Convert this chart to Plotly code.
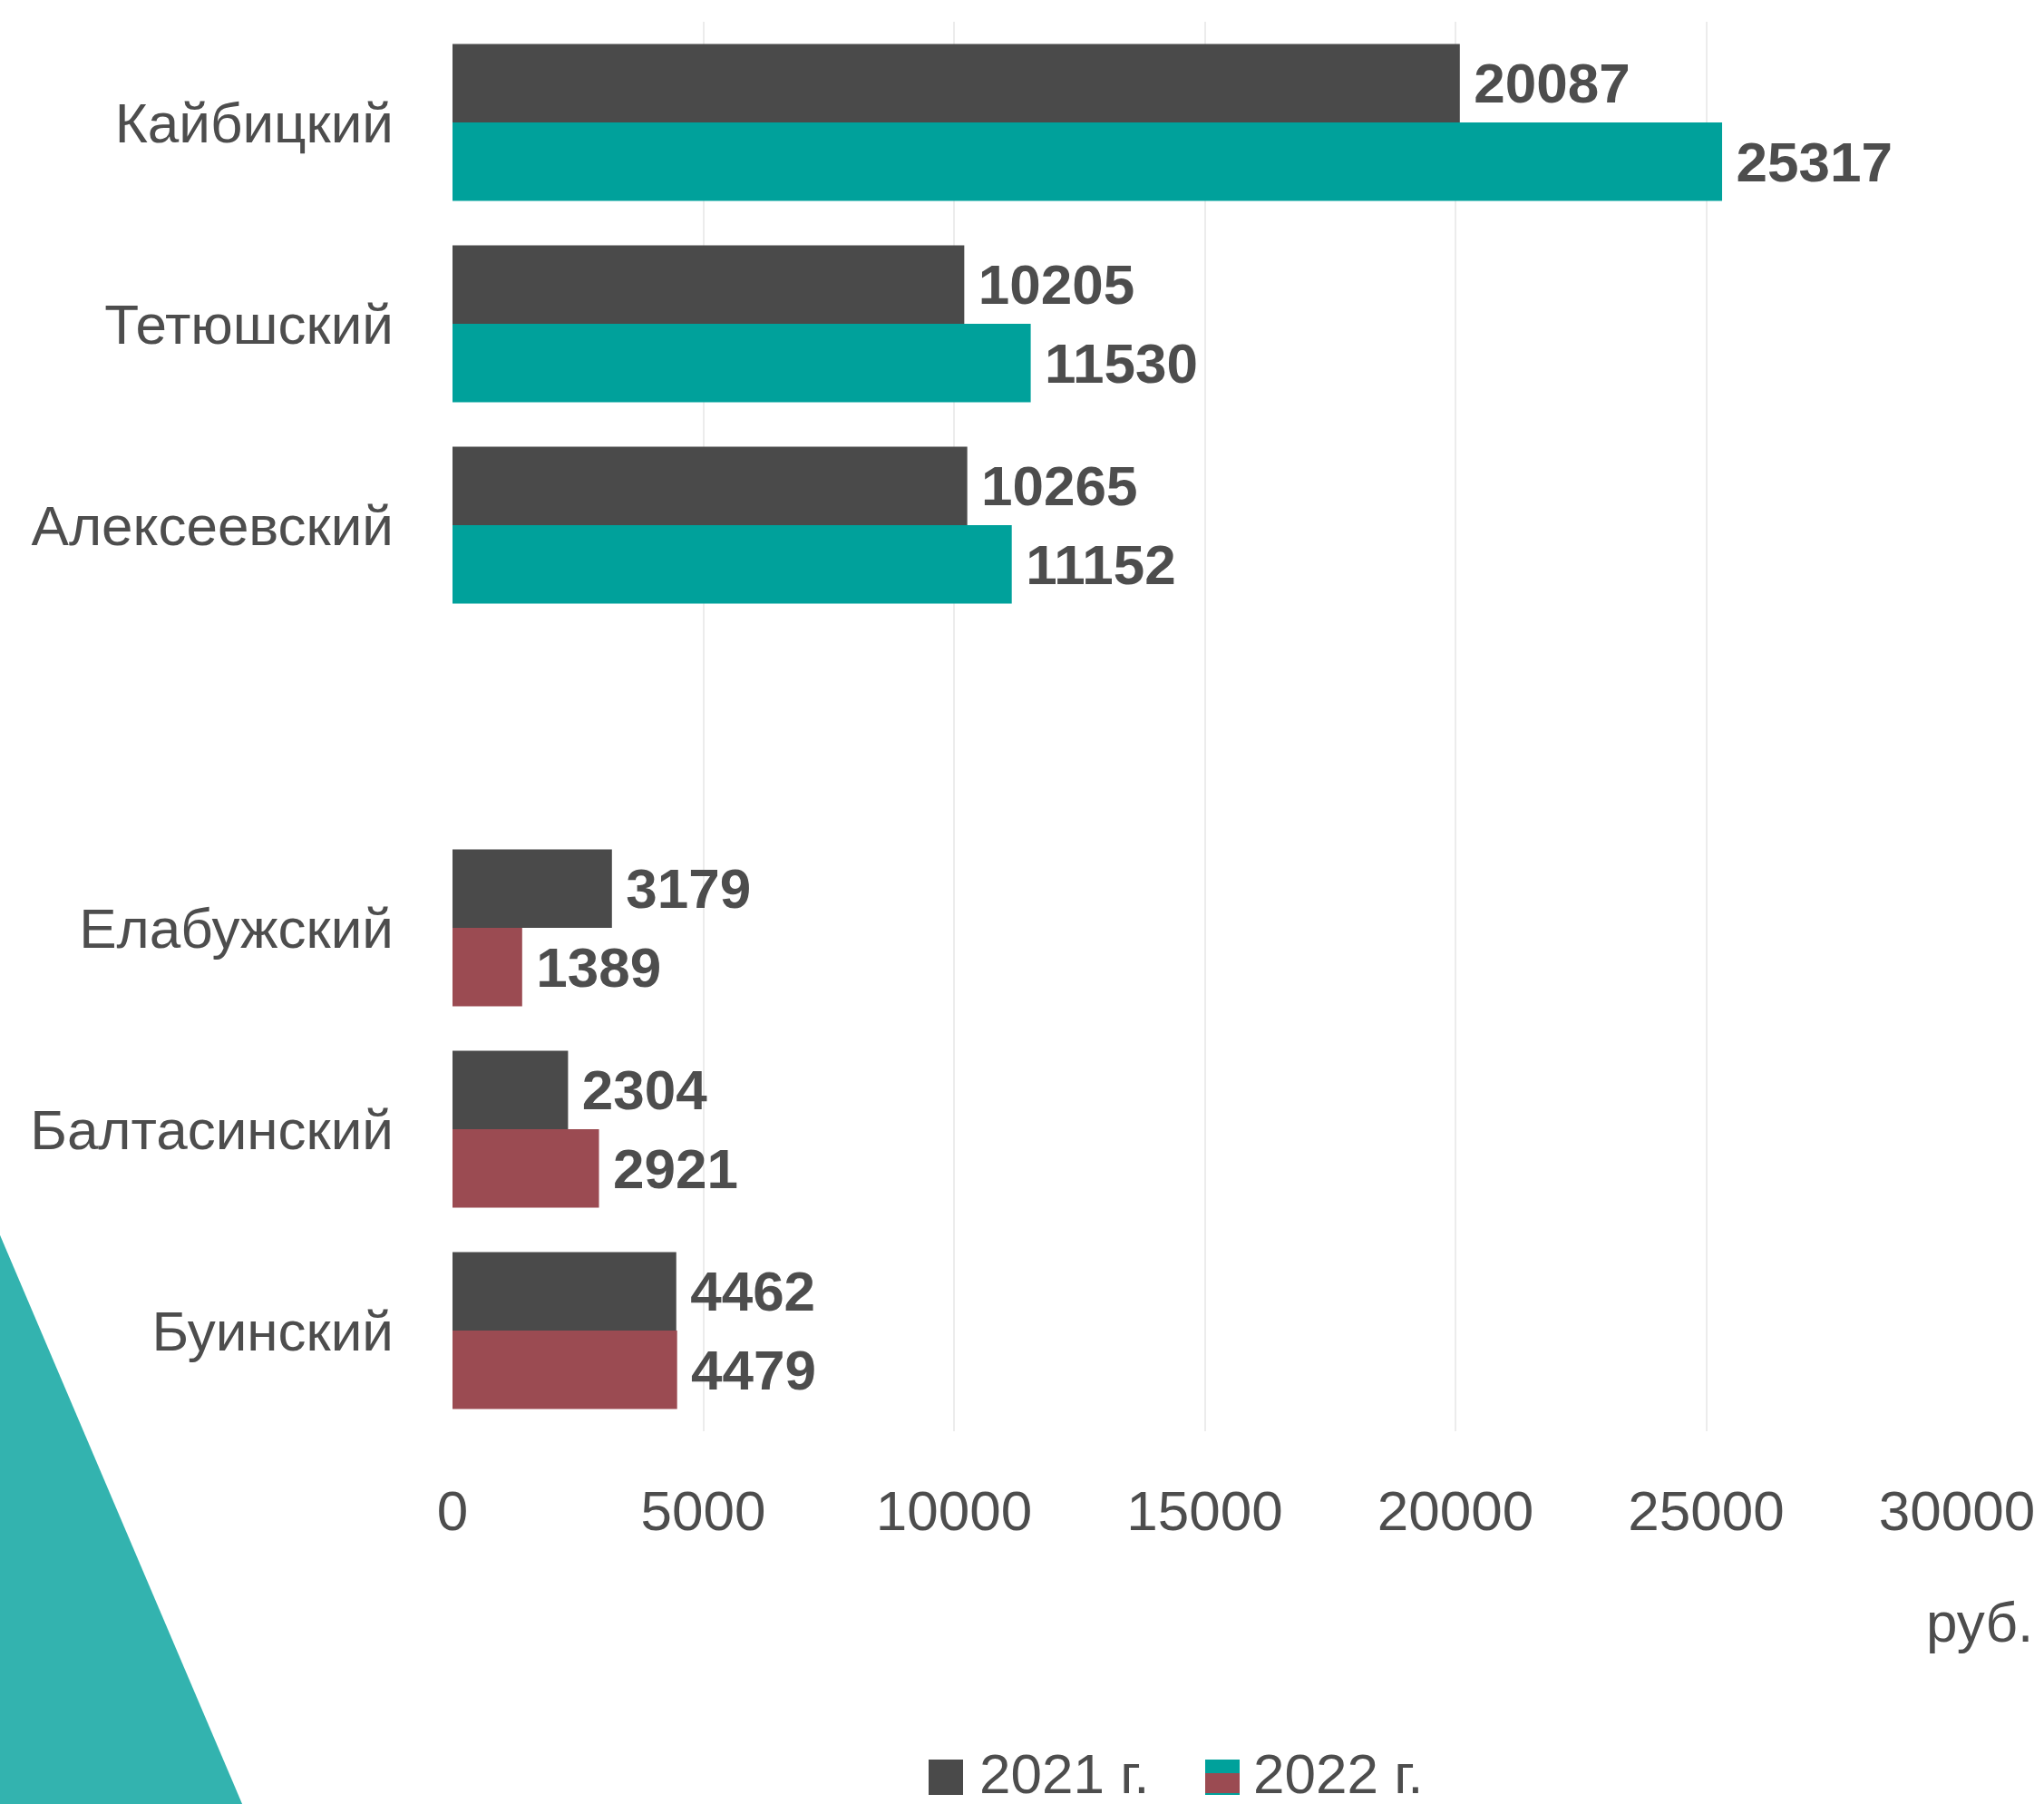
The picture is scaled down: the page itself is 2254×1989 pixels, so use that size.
import plotly.graph_objects as go

# --- data -------------------------------------------------------------------
districts = ["Кайбицкий", "Тетюшский", "Алексеевский",
             "Елабужский", "Балтасинский", "Буинский"]
# order of rows from top to bottom, with one empty slot between the two groups
row_order = ["Кайбицкий", "Тетюшский", "Алексеевский", " ",
             "Елабужский", "Балтасинский", "Буинский"]
values_2021 = [20087, 10205, 10265, 3179, 2304, 4462]
values_2022 = [25317, 11530, 11152, 1389, 2921, 4479]
group_2022 = ["top", "top", "top", "bottom", "bottom", "bottom"]
x_ticks = [0, 5000, 10000, 15000, 20000, 25000, 30000]
series_names = ["2021 г.", "2022 г."]
unit_label = "руб."

# --- style ------------------------------------------------------------------
W, H = 2254, 1989
PLOT_L, PLOT_R, PLOT_T, PLOT_B = 499, 2158, 24, 1578
FONT = "Liberation Sans Narrow, Arial Narrow, Liberation Sans, Arial, sans-serif"
TEXT_COLOR = "#4d4d4d"
DARK = "#4a4a4a"
TEAL = "#00a19b"
RED = "#9b4b52"
DECOR = "#33b3af"
FS = 62


def px(x):
    return (x - PLOT_L) / (PLOT_R - PLOT_L)


def py(y):
    return (PLOT_B - y) / (PLOT_B - PLOT_T)


colors_2022 = [TEAL if g == "top" else RED for g in group_2022]

fig = go.Figure()
fig.add_trace(go.Bar(
    y=districts, x=values_2021, orientation="h", name=series_names[0],
    marker=dict(color=DARK, line=dict(width=0)),
    text=["\u2009" + str(v) for v in values_2021], textposition="outside",
    constraintext="none", cliponaxis=False,
    textfont=dict(family=FONT, size=FS, color=TEXT_COLOR, weight="bold"),
))
fig.add_trace(go.Bar(
    y=districts, x=values_2022, orientation="h", name=series_names[1],
    marker=dict(color=colors_2022, line=dict(width=0)),
    text=["\u2009" + str(v) for v in values_2022], textposition="outside",
    constraintext="none", cliponaxis=False,
    textfont=dict(family=FONT, size=FS, color=TEXT_COLOR, weight="bold"),
))

# decorative triangle in the lower left corner
tri = [(-2, 1357), (267, 1989), (-2, 1989)]
path = "M " + " L ".join(f"{px(a):.4f},{py(b):.4f}" for a, b in tri) + " Z"
shapes = [dict(type="path", xref="paper", yref="paper", path=path,
               fillcolor=DECOR, line=dict(width=0), layer="below")]

# hand-made legend (bigger swatches than plotly's own legend can draw)
shapes.append(dict(type="rect", xref="paper", yref="paper",
                   x0=px(1024), x1=px(1062), y0=py(1979), y1=py(1940),
                   fillcolor=DARK, line=dict(width=0)))
shapes.append(dict(type="rect", xref="paper", yref="paper",
                   x0=px(1329), x1=px(1367), y0=py(1979), y1=py(1940),
                   fillcolor=TEAL, line=dict(width=0)))
shapes.append(dict(type="rect", xref="paper", yref="paper",
                   x0=px(1329), x1=px(1367), y0=py(1977), y1=py(1955),
                   fillcolor=RED, line=dict(width=0)))

annotations = [
    dict(text=unit_label, xref="paper", yref="paper", x=px(2244), y=py(1788),
         xanchor="right", yanchor="middle", showarrow=False,
         font=dict(family=FONT, size=FS, color=TEXT_COLOR)),
    dict(text=series_names[0], xref="paper", yref="paper", x=px(1078), y=py(1955),
         xanchor="left", yanchor="middle", showarrow=False,
         font=dict(family=FONT, size=FS, color=TEXT_COLOR)),
    dict(text=series_names[1], xref="paper", yref="paper", x=px(1380), y=py(1955),
         xanchor="left", yanchor="middle", showarrow=False,
         font=dict(family=FONT, size=FS, color=TEXT_COLOR)),
]

fig.update_layout(
    width=W, height=H,
    margin=dict(l=PLOT_L, r=W - PLOT_R, t=PLOT_T, b=H - PLOT_B, autoexpand=False),
    paper_bgcolor="white", plot_bgcolor="white",
    barmode="group", bargap=0.22, bargroupgap=0,
    showlegend=False,
    shapes=shapes, annotations=annotations,
    font=dict(family=FONT, size=FS, color=TEXT_COLOR),
)
fig.update_xaxes(
    range=[0, 30000], tickvals=x_ticks, ticktext=[str(t) for t in x_ticks],
    showgrid=True, gridcolor="#ececec", gridwidth=2, zeroline=False,
    showline=False, ticks="", ticklabelstandoff=46, ticklabeloverflow="allow",
    tickfont=dict(family=FONT, size=FS, color=TEXT_COLOR),
)
fig.update_yaxes(
    categoryorder="array", categoryarray=row_order, autorange="reversed",
    showgrid=False, zeroline=False, showline=False, ticks="",
    ticklabelstandoff=64,
    tickfont=dict(family=FONT, size=FS, color=TEXT_COLOR),
)

# page body has a default 8px margin; drop it so the figure fills the window
fig.write_html("out.html", config={"displayModeBar": False},
               post_script="document.body.style.margin='0';")
